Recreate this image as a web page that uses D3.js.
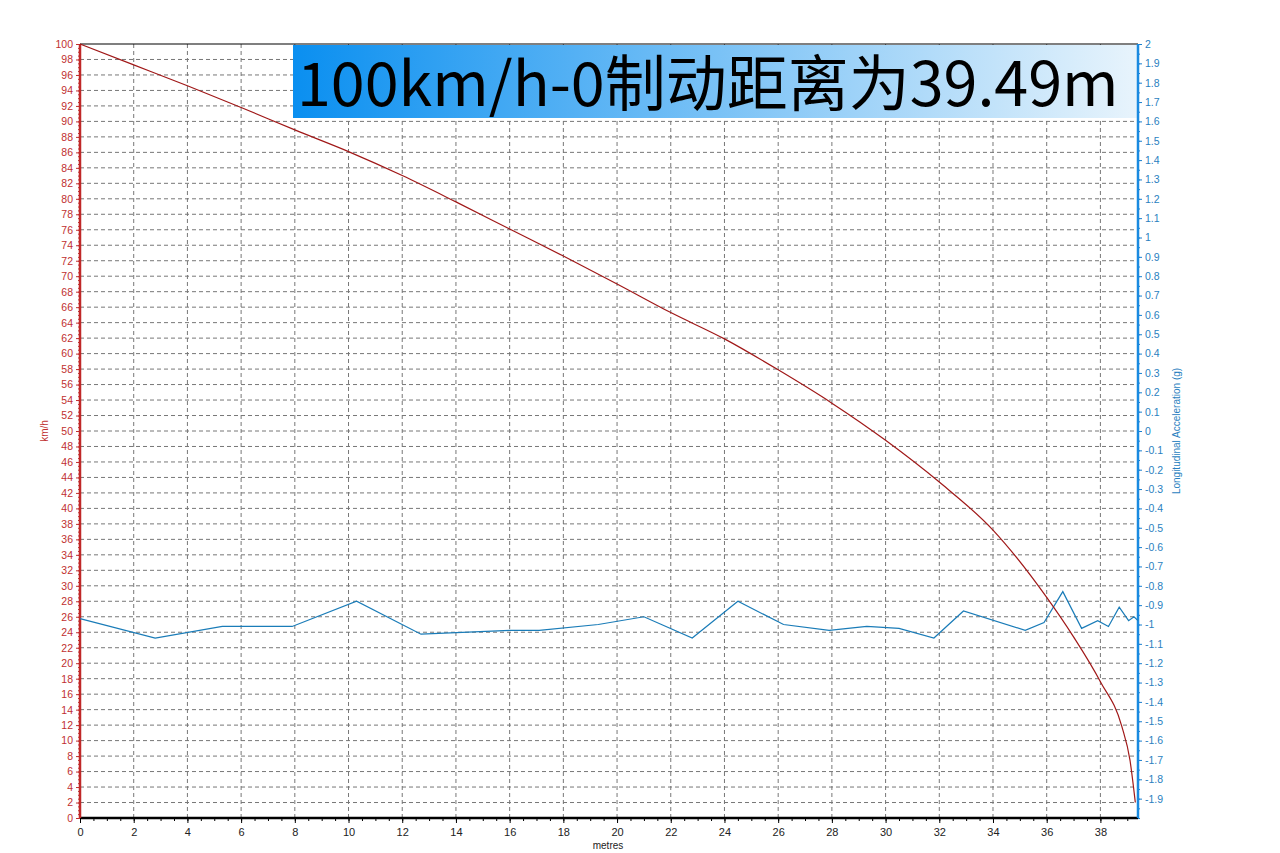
<!DOCTYPE html>
<html><head><meta charset="utf-8">
<script src="https://cdn.jsdelivr.net/npm/d3@7"></script>
<style>body{margin:0;background:#fff}</style></head>
<body><svg id="c" width="1280" height="853"></svg>
<script>
const speedX = [0,2,4,6,8,10,12,14,16,18,20,22,24,26,28,30,32,34,36,37,38,38.8,39.1,39.3];
const speedY = [100,97.3,94.6,91.8,88.9,86.1,83,79.6,76.1,72.6,69,65.3,61.9,57.9,53.6,48.8,43.4,37.2,28.5,23.4,17.6,11.8,7.5,2];
const accX = [0,2.8,5.3,7.9,10.3,12.7,16,17.1,19.3,21,22.8,24.5,26.2,27.9,29.3,30.5,31.8,32.9,35.2,35.9,36.6,37.3,37.9,38.3,38.7,39.05,39.25,39.4];
const accY = [-0.97,-1.07,-1.01,-1.01,-0.88,-1.05,-1.03,-1.03,-1.0,-0.96,-1.07,-0.88,-1.0,-1.03,-1.01,-1.02,-1.07,-0.93,-1.03,-0.99,-0.83,-1.02,-0.98,-1.01,-0.91,-0.98,-0.96,-0.98];
const xTicks = d3.range(0,39,2);
const leftTicks = d3.range(0,101,2);
const rightTicks = d3.range(-19,21,1).map(v=>v/10);
const title = "100km/h-0制动距离为39.49m";

const svg = d3.select("#c");
const L=80,R=1138,T=44,B=818;
const x = d3.scaleLinear().domain([0,39.4]).range([L,R]);
const yL = d3.scaleLinear().domain([0,100]).range([B,T]);
const yR = d3.scaleLinear().domain([-2,2]).range([B,T]);
const font = "Liberation Sans, Arial, sans-serif";

const g = svg.append("g");
g.selectAll(".gx").data(xTicks.slice(1)).join("line").attr("x1",d=>x(d)).attr("x2",d=>x(d)).attr("y1",T).attr("y2",B)
 .attr("stroke","#777").attr("stroke-dasharray","4,3");
g.selectAll(".gy").data(leftTicks.slice(1,-1)).join("line").attr("x1",L).attr("x2",R).attr("y1",d=>yL(d)).attr("y2",d=>yL(d))
 .attr("stroke","#777").attr("stroke-dasharray","4,3");

const grad = svg.append("defs").append("linearGradient").attr("id","tg");
grad.append("stop").attr("offset","0").attr("stop-color","#0a8ff0");
grad.append("stop").attr("offset","1").attr("stop-color","#e8f4fc");
svg.append("rect").attr("x",293).attr("y",T+1).attr("width",R-293).attr("height",73).attr("fill","url(#tg)");
svg.append("text").attr("x",297).attr("y",106).attr("font-family","Noto Sans CJK SC, Noto Sans, sans-serif").attr("font-size",61).attr("fill","#000").text(title);

const xa = svg.append("g").attr("transform",`translate(0,${B})`).call(d3.axisBottom(x).tickValues(xTicks).tickSize(5).tickFormat(d3.format("d")));
xa.select(".domain").remove();
svg.append("g").attr("transform",`translate(0,${B})`).call(d3.axisBottom(x).tickValues(d3.range(0,39.4,0.5)).tickSize(3).tickFormat("")).select(".domain").remove();
xa.selectAll("text").attr("font-family",font).attr("font-size",11).attr("fill","#222").attr("dy","0.9em");

const la = svg.append("g").attr("transform",`translate(${L},0)`).call(d3.axisLeft(yL).tickValues(leftTicks).tickSize(4).tickFormat(d3.format("d")));
la.select(".domain").remove();
la.selectAll("line").attr("stroke","#c03030");
la.selectAll("text").attr("font-family",font).attr("font-size",10.5).attr("fill","#c03030");
svg.append("g").attr("transform",`translate(${L},0)`).call(d3.axisLeft(yL).tickValues(d3.range(0,100.1,0.5)).tickSize(2).tickFormat("")).call(s=>s.select(".domain").remove()).selectAll("line").attr("stroke","#c03030");

const ra = svg.append("g").attr("transform",`translate(${R},0)`).call(d3.axisRight(yR).tickValues(rightTicks).tickSize(4).tickFormat(d=>String(+d.toFixed(1))));
ra.select(".domain").remove();
ra.selectAll("line").attr("stroke","#1a7fd0");
ra.selectAll("text").attr("font-family",font).attr("font-size",10.5).attr("fill","#2a7fc0");
svg.append("g").attr("transform",`translate(${R},0)`).call(d3.axisRight(yR).tickValues(d3.range(-40,41,1).map(v=>v/20)).tickSize(2).tickFormat("")).call(s=>s.select(".domain").remove()).selectAll("line").attr("stroke","#1a7fd0");

svg.append("line").attr("x1",L).attr("x2",R).attr("y1",T).attr("y2",T).attr("stroke","#000").attr("stroke-width",1.2);
svg.append("line").attr("x1",L).attr("x2",R).attr("y1",B).attr("y2",B).attr("stroke","#000").attr("stroke-width",2.5);
svg.append("line").attr("x1",L).attr("x2",L).attr("y1",T).attr("y2",B).attr("stroke","#c02828").attr("stroke-width",2.5);
svg.append("line").attr("x1",R).attr("x2",R).attr("y1",T).attr("y2",B).attr("stroke","#1a8ae0").attr("stroke-width",2.5);

svg.append("path").datum(accX.map((d,i)=>[d,accY[i]])).attr("fill","none").attr("stroke","#1a7cb8").attr("stroke-width",1.2)
 .attr("d",d3.line().x(d=>x(d[0])).y(d=>yR(d[1])));
svg.append("path").datum(speedX.map((d,i)=>[d,speedY[i]])).attr("fill","none").attr("stroke","#a01818").attr("stroke-width",1.2)
 .attr("d",d3.line().curve(d3.curveMonotoneX).x(d=>x(d[0])).y(d=>yL(d[1])));

svg.append("text").attr("transform","translate(48,431) rotate(-90)").attr("text-anchor","middle").attr("font-family",font).attr("font-size",10).attr("fill","#c03030").text("km/h");
svg.append("text").attr("transform","translate(1180,431) rotate(-90)").attr("text-anchor","middle").attr("font-family",font).attr("font-size",10).attr("fill","#2a7fc0").text("Longitudinal Acceleration (g)");
svg.append("text").attr("x",608).attr("y",849).attr("text-anchor","middle").attr("font-family",font).attr("font-size",10).attr("fill","#222").text("metres");
</script></body></html>
